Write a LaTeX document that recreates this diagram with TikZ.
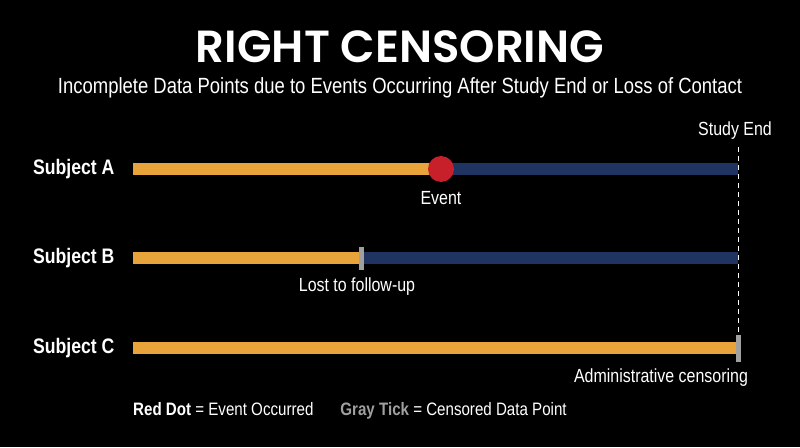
\documentclass[tikz,border=0pt]{standalone}
\usepackage{fontspec}
\newfontfamily\titlefont{Poppins}[UprightFont=*-SemiBold]
\newfontfamily\cond{Liberation Sans}[FakeStretch=0.84, BoldFeatures={FakeStretch=0.84}]
\definecolor{bg}{HTML}{000000}
\definecolor{orangebar}{HTML}{E8A33A}
\definecolor{navybar}{HTML}{1F3461}
\definecolor{reddot}{HTML}{C8202A}
\definecolor{graytick}{HTML}{A0A0A0}
\tikzset{
  bar/.style={line width=12pt},
  done/.style={bar, draw=orangebar},
  rest/.style={bar, draw=navybar},
  tickmark/.style={fill=graytick, draw=none, minimum width=5pt, minimum height=23pt, inner sep=0pt},
  dotmark/.style={circle, fill=reddot, draw=none, minimum size=26pt, inner sep=0pt},
  subj/.style={anchor=east, text=white, font=\cond\fontsize{21}{24}\selectfont\bfseries},
  lbl/.style={text=white, inner sep=1pt, font=\cond\fontsize{19}{22}\selectfont},
}
\begin{document}
\begin{tikzpicture}[x=1pt,y=-1pt]
\fill[bg] (0,0) rectangle (800,447);
\useasboundingbox (0,0) rectangle (800,447);
% title
\node[text=white, inner sep=0pt, font=\titlefont\fontsize{45}{50}\selectfont] (title) at (400,47) {RIGHT CENSORING};
\node[text=white, inner sep=0pt, font=\cond\fontsize{22}{25}\selectfont] (sub) at (400,88) {Incomplete Data Points due to Events Occurring After Study End or Loss of Contact};
% study end
\coordinate (sETop) at (738,147);
\coordinate (sEBot) at (738,336);
\draw[white, line width=1pt, dash pattern=on 5pt off 4pt] (sETop) -- (sEBot);
\node[lbl] (studyend) at (735,131) {Study End};
% subject A
\node[subj] (sa) at (118,169) {Subject A};
\coordinate (a0) at (133,169);
\coordinate (a1) at (441,169);
\coordinate (a2) at (738,169);
\draw[done] (a0) -- (a1);
\draw[rest] (a1) -- (a2);
\node[dotmark] (adot) at (a1) {};
\node[lbl] (event) at (441,198) {Event};
% subject B
\node[subj] (sb) at (118,258) {Subject B};
\coordinate (b0) at (133,258);
\coordinate (b1) at (361,258);
\coordinate (b2) at (738,258);
\draw[done] (b0) -- (b1);
\draw[rest] (b1) -- (b2);
\node[tickmark] (btick) at (b1) {};
\node[lbl] (lost) at (357,287) {Lost to follow-up};
% subject C
\node[subj] (sc) at (118,348) {Subject C};
\coordinate (c0) at (133,348);
\coordinate (c1) at (738,348);
\draw[done] (c0) -- (c1);
\node[tickmark, minimum height=27pt] (ctick) at (c1) {};
\node[lbl] (admin) at (661,378) {Administrative censoring};
% legend
\node[lbl, anchor=west, font=\cond\fontsize{18}{20}\selectfont] (legend) at (132,411) {{\bfseries Red Dot} = Event Occurred\hspace{1.5em}{\bfseries\color{graytick}Gray Tick} = Censored Data Point};
\end{tikzpicture}
\end{document}
